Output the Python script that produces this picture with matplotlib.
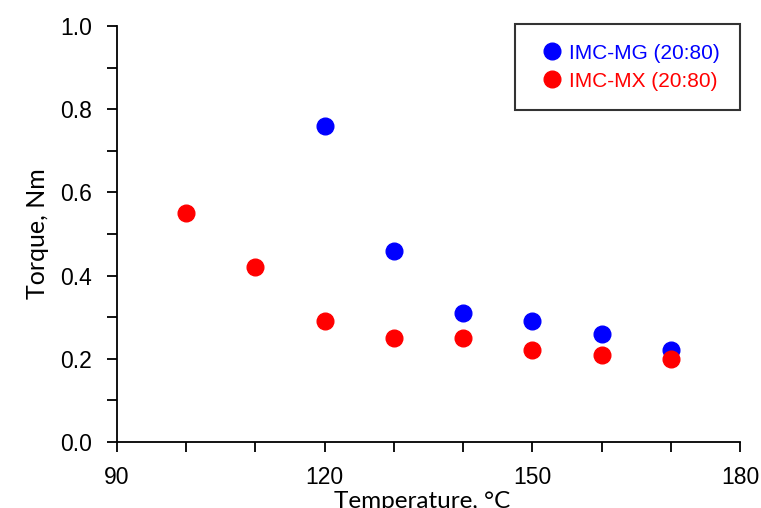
import matplotlib.pyplot as plt
from matplotlib.ticker import MultipleLocator

# Torque vs temperature
temp_mg = [120, 130, 140, 150, 160, 170]
torque_mg = [0.76, 0.46, 0.31, 0.29, 0.26, 0.22]

temp_mx = [100, 110, 120, 130, 140, 150, 160, 170]
torque_mx = [0.55, 0.42, 0.29, 0.25, 0.25, 0.22, 0.21, 0.20]

plt.rcParams['font.family'] = ['Liberation Sans', 'DejaVu Sans']

fig = plt.figure(figsize=(7.61, 5.08), dpi=100)
ax = fig.add_axes([117 / 761, 66 / 508, 623 / 761, 416 / 508])

ax.plot(temp_mg, torque_mg, 'o', color='#0000ff', markersize=12, label='IMC-MG (20:80)')
ax.plot(temp_mx, torque_mx, 'o', color='#ff0000', markersize=12, label='IMC-MX (20:80)')

ax.set_xlim(90, 180)
ax.set_ylim(0, 1.0)
ax.xaxis.set_major_locator(MultipleLocator(30))
ax.xaxis.set_minor_locator(MultipleLocator(10))
ax.yaxis.set_major_locator(MultipleLocator(0.2))
ax.yaxis.set_minor_locator(MultipleLocator(0.1))
ax.yaxis.set_major_formatter(plt.FormatStrFormatter('%.1f'))

for side in ['top', 'right']:
    ax.spines[side].set_visible(False)
for side in ['left', 'bottom']:
    ax.spines[side].set_linewidth(1.3)
ax.tick_params(which='both', direction='out', length=7, width=1.3, labelsize=16.5)
ax.tick_params(axis='y', pad=11)
ax.tick_params(axis='x', pad=10)

label_font = ['Lato', 'DejaVu Sans']
ax.set_xlabel('Temperature, °C', fontsize=17.5, family=label_font, labelpad=2)
ax.xaxis.label.set_x(0.489)
ax.set_ylabel('Torque, Nm', fontsize=18, family=label_font, labelpad=8)

leg = ax.legend(loc='upper right', bbox_to_anchor=(740 / 761, 1 - 24 / 508),
                bbox_transform=fig.transFigure, borderaxespad=0,
                fontsize=15, frameon=True, fancybox=False, handletextpad=0.05,
                borderpad=0.95, labelspacing=0.42, handlelength=1.6)
leg.get_frame().set_edgecolor('black')
leg.get_frame().set_linewidth(1.5)
for txt, c in zip(leg.get_texts(), ['#0000ff', '#ff0000']):
    txt.set_color(c)

fig.savefig('out.png', dpi=100)
